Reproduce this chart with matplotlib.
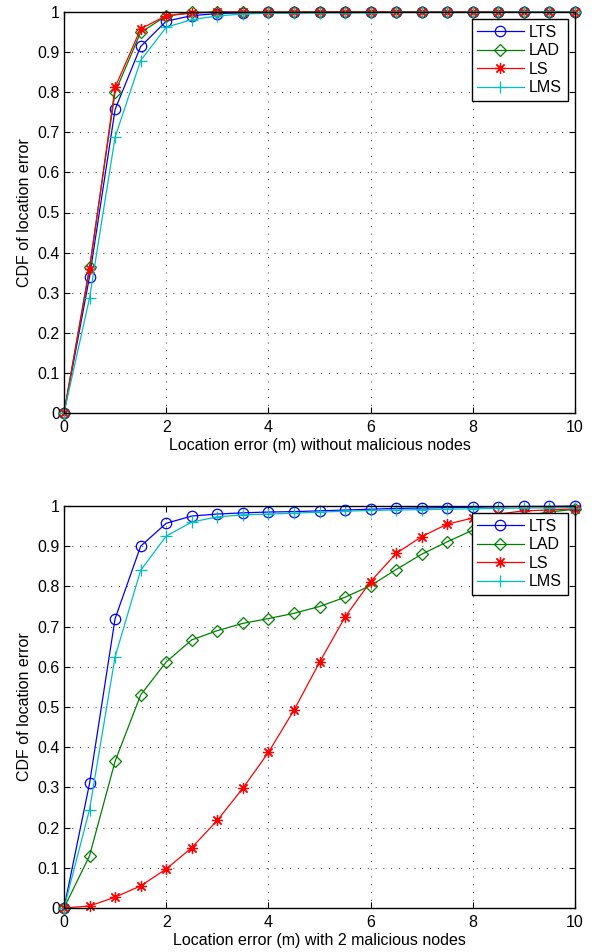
import matplotlib
matplotlib.use("Agg")
from matplotlib import pyplot as plt
from matplotlib.ticker import FuncFormatter

plt.rcParams['font.family'] = ['Liberation Sans', 'DejaVu Sans']
plt.rcParams['font.size'] = 11.5

# location error (m)
x = [0, 0.5, 1, 1.5, 2, 2.5, 3, 3.5, 4, 4.5, 5, 5.5, 6, 6.5, 7, 7.5, 8, 8.5, 9, 9.5, 10]

# without malicious nodes
lts_a = [0, 0.34, 0.757, 0.914, 0.977, 0.991, 0.996, 0.998, 0.999, 0.999, 1, 1, 1, 1, 1, 1, 1, 1, 1, 1, 1]
lad_a = [0, 0.364, 0.80, 0.949, 0.99, 0.999, 1, 1, 1, 1, 1, 1, 1, 1, 1, 1, 1, 1, 1, 1, 1]
ls_a = [0, 0.358, 0.812, 0.958, 0.991, 0.997, 1, 1, 1, 1, 1, 1, 1, 1, 1, 1, 1, 1, 1, 1, 1]
lms_a = [0, 0.287, 0.688, 0.879, 0.962, 0.981, 0.99, 0.995, 0.997, 0.997, 0.998, 0.998, 0.998, 0.999, 0.999, 0.999, 0.999, 0.999, 1, 1, 1]

# with 2 malicious nodes
lts_b = [0, 0.31, 0.72, 0.90, 0.957, 0.975, 0.98, 0.983, 0.985, 0.986, 0.988, 0.99, 0.992, 0.994, 0.995, 0.996, 0.997, 0.998, 0.999, 0.999, 1.0]
lad_b = [0, 0.13, 0.365, 0.53, 0.612, 0.667, 0.69, 0.708, 0.72, 0.733, 0.75, 0.773, 0.802, 0.842, 0.88, 0.911, 0.94, 0.96, 0.975, 0.985, 0.992]
ls_b = [0, 0.005, 0.027, 0.055, 0.097, 0.15, 0.218, 0.298, 0.387, 0.492, 0.611, 0.724, 0.812, 0.882, 0.924, 0.955, 0.97, 0.98, 0.988, 0.99, 0.993]
lms_b = [0, 0.245, 0.625, 0.84, 0.925, 0.96, 0.973, 0.978, 0.98, 0.982, 0.985, 0.987, 0.989, 0.99, 0.991, 0.992, 0.993, 0.994, 0.995, 0.995, 0.996]

names = ["LTS", "LAD", "LS", "LMS"]
colors = ["#0000ff", "#008000", "#ff0000", "#00bfbf"]
# matlab-ish markers: open circle, open diamond, asterisk (+ and x), plus
markers = ["o", "D", (8, 2, 0), "+"]
msizes = [7.5, 6.5, 8, 9]

xlabels = ["Location error (m) without malicious nodes",
           "Location error (m) with 2 malicious nodes"]

fig = plt.figure(figsize=(5.97, 9.52), dpi=100)
W, H = 597.0, 952.0
# axes boxes in pixels: left, top, right, bottom
boxes = [(64, 12, 575, 413), (64, 506, 575, 908)]

def yfmt(v, pos):
    s = "%.1f" % v
    if s == "0.0":
        return "0"
    if s == "1.0":
        return "1"
    return s

for k, (l, t, r, b) in enumerate(boxes):
    ax = fig.add_axes([l / W, 1 - b / H, (r - l) / W, (b - t) / H])
    series = [lts_a, lad_a, ls_a, lms_a] if k == 0 else [lts_b, lad_b, ls_b, lms_b]
    for s, nm, c, m, ms in zip(series, names, colors, markers, msizes):
        mfc = "none" if m in ("o", "D") else c
        ax.plot(x, s, color=c, marker=m, markersize=ms,
                markerfacecolor=mfc, markeredgecolor=c, markeredgewidth=0.9,
                linewidth=0.9, label=nm, clip_on=False)
    ax.set_xlim(0, 10)
    ax.set_ylim(0, 1)
    ax.set_xticks([0, 2, 4, 6, 8, 10])
    ax.set_yticks([i / 10 for i in range(11)])
    ax.yaxis.set_major_formatter(FuncFormatter(yfmt))
    ax.grid(True, linestyle=(0, (1, 7)), color="#333333", linewidth=0.7)
    ax.tick_params(direction="in", top=True, right=True, length=4, width=0.8)
    ax.tick_params(axis="x", pad=5)
    ax.tick_params(axis="y", pad=3)
    for sp in ax.spines.values():
        sp.set_linewidth(1.0)
    ax.set_xlabel(xlabels[k], labelpad=2)
    ax.set_ylabel("CDF of location error", labelpad=4)
    leg = ax.legend(loc="upper right", fancybox=False, framealpha=1,
                    edgecolor="black", borderaxespad=0.45, handlelength=2.9,
                    labelspacing=0.22, borderpad=0.35, handletextpad=0.35)
    leg.get_frame().set_linewidth(1.0)

fig.savefig("out.png", dpi=100)
